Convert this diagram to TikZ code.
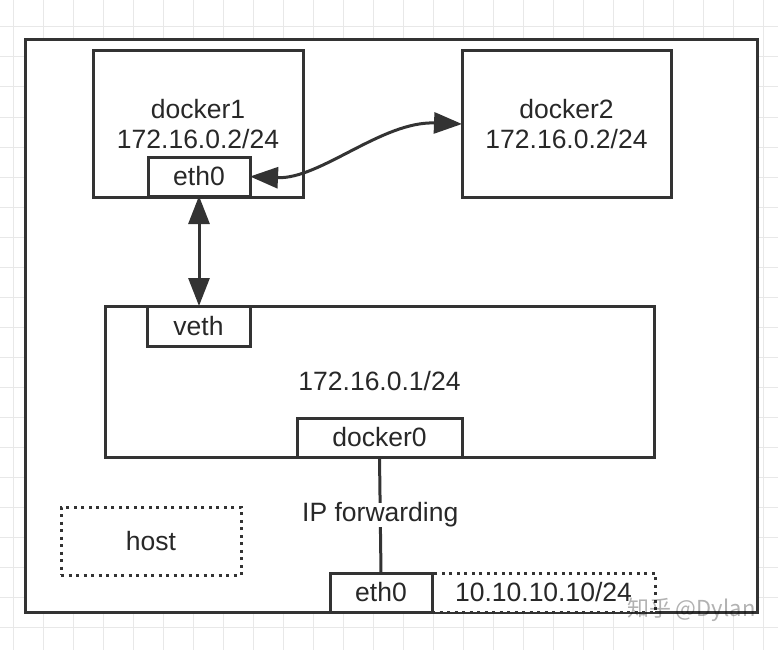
\documentclass[tikz,border=0pt]{standalone}
\usepackage{fontspec}
\setmainfont{Liberation Sans}
\newfontfamily\cjkfont{Noto Sans CJK SC}
\usetikzlibrary{arrows.meta}

\begin{document}
\begin{tikzpicture}[
    x=1pt, y=-1pt,
    box/.style={draw=lineGray, line width=3pt, fill=white, inner sep=0pt, outer sep=0pt,
        text=textGray, font=\fontsize{26.5}{30}\selectfont, align=center},
    dotbox/.style={box, dash pattern=on 3pt off 4.5pt},
    arr/.style={draw=lineGray, line width=3pt, {Triangle[length=28pt,width=21pt]}-{Triangle[length=28pt,width=21pt]}}
    ]
    % Colori
    \definecolor{lineGray}{RGB}{51, 51, 51}
    \definecolor{textGray}{RGB}{40, 40, 40}
    \definecolor{gridGray}{RGB}{232, 232, 232}

    \useasboundingbox (0,0) rectangle (778,650);
    \fill[white] (0,0) rectangle (778,650);

    % Griglia di sfondo
    \foreach \gx in {13,43,...,778} {
        \draw[gridGray, line width=1pt] (\gx,0) -- (\gx,650);
    }
    \foreach \gy in {27,57,...,650} {
        \draw[gridGray, line width=1pt] (0,\gy) -- (778,\gy);
    }

    % Macchina host
    \node[box, minimum width=732pt, minimum height=572pt] (hostbox) at (391,326) {};

    % Container
    \node[box, minimum width=210pt, minimum height=146pt] (docker1) at (198,124) {docker1\\172.16.0.2/24};
    \node[box, minimum width=102pt, minimum height=39pt] (ethone) at (199,176.5) {eth0};

    \node[box, minimum width=209pt, minimum height=146pt] (docker2) at (566.5,124) {docker2\\172.16.0.2/24};

    % Bridge docker0
    \node[box, minimum width=549pt, minimum height=151pt] (bridge) at (379.5,381.5) {172.16.0.1/24};
    \node[box, minimum width=103pt, minimum height=40pt] (veth) at (198.5,326) {veth};
    \node[box, minimum width=165pt, minimum height=39pt] (dockerzero) at (379.5,437.5) {docker0};

    % Interfaccia dell'host
    \node[dotbox, minimum width=180pt, minimum height=68pt] (hostlabel) at (151,541) {host};
    \node[dotbox, minimum width=223pt, minimum height=39pt] (hostip) at (543.5,592.5) {10.10.10.10/24};
    \node[box, minimum width=102pt, minimum height=39pt] (hosteth) at (381,592.5) {eth0};

    % Collegamenti
    \draw[arr] (ethone.east) .. controls +(70,3) and +(-80,-3) .. (docker2.west);
    \draw[arr] (ethone.south) -- (ethone.south |- veth.north);
    \draw[draw=lineGray, line width=3pt] (dockerzero.south) -- (hosteth.north)
        node[midway, fill=white, text=textGray, inner xsep=3pt, inner ysep=0pt, font=\fontsize{26.5}{30}\selectfont] (ipfwd) {IP forwarding};

    % Filigrana
    \node[text=black, opacity=0.3, font=\cjkfont\fontsize{22}{26}\selectfont, anchor=east] (watermark) at (759,610) {知乎 @Dylan};
\end{tikzpicture}
\end{document}
